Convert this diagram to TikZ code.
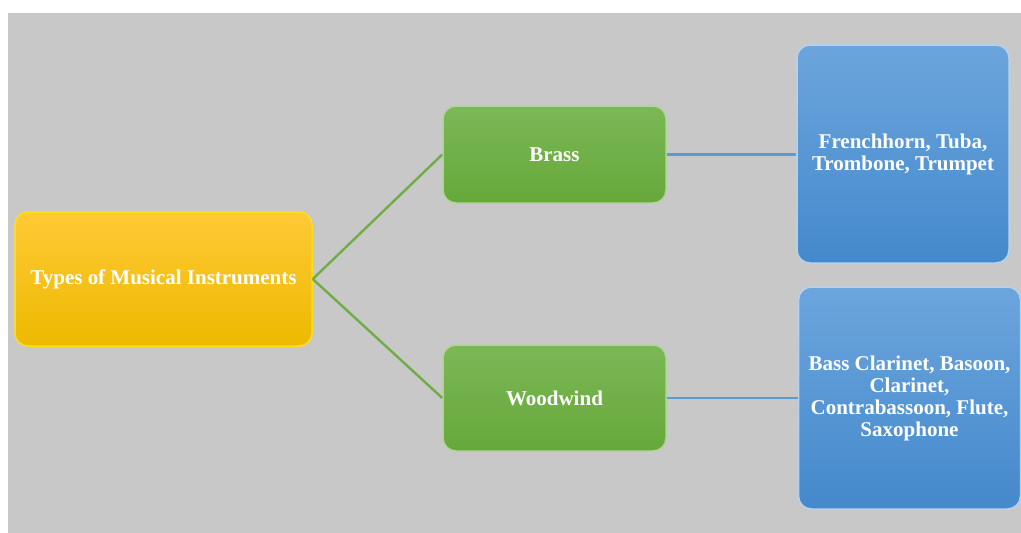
\documentclass[tikz,border=0pt]{standalone}
\usepackage{fontspec}
\setmainfont{Liberation Serif}
\usepackage{tikz}
\usetikzlibrary{arrows.meta,positioning,calc}

\definecolor{bggray}{HTML}{C8C8C8}
\definecolor{goldtop}{HTML}{FFCA35}
\definecolor{goldbot}{HTML}{EDB900}
\definecolor{greentop}{HTML}{7BB856}
\definecolor{greenbot}{HTML}{66A83A}
\definecolor{bluetop}{HTML}{6CA5DD}
\definecolor{bluebot}{HTML}{4489CC}
\definecolor{greenline}{HTML}{70AD47}
\definecolor{blueline}{HTML}{5B9BD5}

\tikzset{
  box/.style={rounded corners=13pt, align=center, text=white,
    font=\bfseries\fontsize{21}{22}\selectfont, inner sep=2pt},
  rootbox/.style={box, top color=goldtop, bottom color=goldbot, draw=yellow!60!goldtop, line width=1.5pt},
  groupbox/.style={box, top color=greentop, bottom color=greenbot, draw=greentop!60!white, line width=1.5pt},
  listbox/.style={box, top color=bluetop, bottom color=bluebot, draw=bluetop!50!white, line width=1.5pt},
  link/.style={line width=2.4pt}
}

\begin{document}
\begin{tikzpicture}[x=1pt, y=-1pt]

  % Background
  \useasboundingbox (0,0) rectangle (1021,533);
  \fill[bggray] (8,13) rectangle (1021,533);

  % Define nodes
  \node[rootbox, minimum width=297pt, minimum height=134pt] (root) at (163.5,279) {Types of Musical Instruments};
  \node[groupbox, minimum width=223pt, minimum height=97pt] (brass) at (554.5,154.5) {Brass};
  \node[groupbox, minimum width=223pt, minimum height=106pt] (wood) at (554.5,398) {Woodwind};
  \node[listbox, minimum width=212pt, minimum height=218pt] (brasslist) at (903,154) {Frenchhorn, Tuba,\\Trombone, Trumpet};
  \node[listbox, minimum width=222pt, minimum height=222pt] (woodlist) at (909.5,398) {Bass Clarinet, Basoon,\\Clarinet,\\Contrabassoon, Flute,\\Saxophone};

  % Draw connectors
  \draw[link, greenline] (root.east) -- (brass.west);
  \draw[link, greenline] (root.east) -- (wood.west);
  \draw[link, blueline] (brass.east) -- (brasslist.west |- brass.east);
  \draw[link, blueline] (wood.east) -- (woodlist.west |- wood.east);
\end{tikzpicture}
\end{document}
